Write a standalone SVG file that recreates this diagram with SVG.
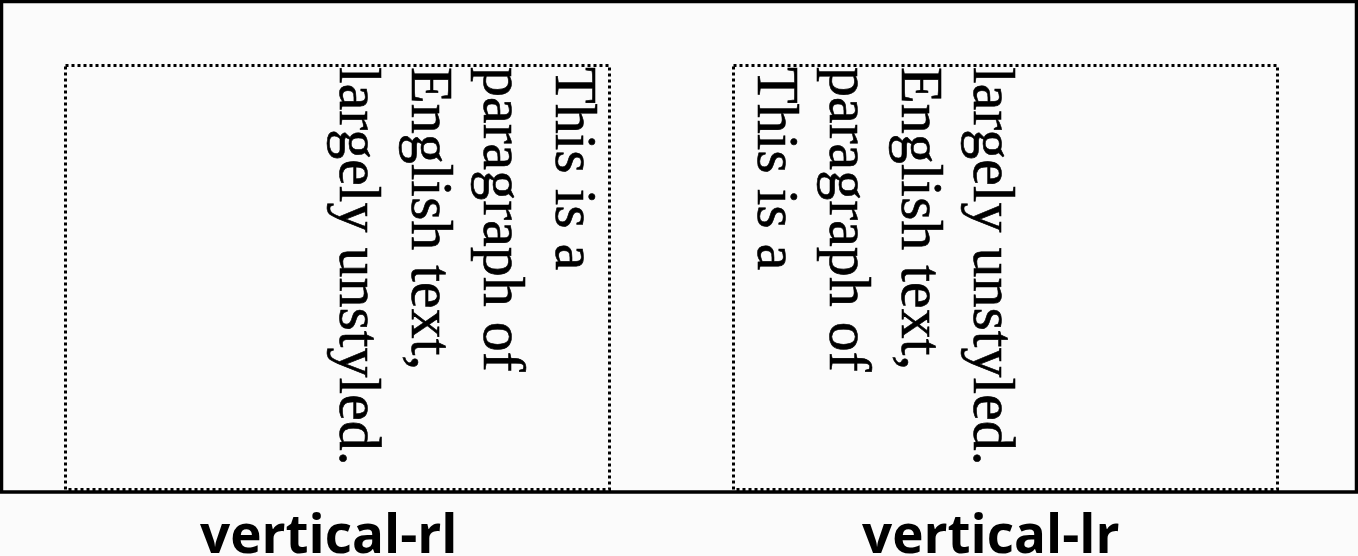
<svg xmlns="http://www.w3.org/2000/svg" width="1358" height="556" viewBox="0 0 1358 556">
  <style>
    .bg { fill: #fbfbfb; }
    .frame { fill: none; stroke: #000; stroke-width: 3.5; }
    .dotted { fill: none; stroke: #000; stroke-width: 3; stroke-dasharray: 3 3; }
    .para { font-family: "Liberation Serif", "Times New Roman", serif; font-size: 60px; fill: #000; stroke: #000; stroke-width: 0.6; }
    .label { font-family: "Open Sans", "Noto Sans", sans-serif; font-weight: 700; font-size: 53px; fill: #000; }
  </style>
  <rect class="bg" x="0" y="0" width="1358" height="556"/>
  <rect id="outer-frame" class="frame" x="1.5" y="1.5" width="1355" height="490.5"/>

  <g id="panel-vertical-rl">
    <rect class="dotted" x="65.5" y="65.5" width="544" height="424"/>
    <text class="para" transform="translate(556,67) rotate(90)">This is a</text>
    <text class="para" transform="translate(484,67) rotate(90)">paragraph of</text>
    <text class="para" transform="translate(412,67) rotate(90)">English text,</text>
    <text class="para" transform="translate(340,67) rotate(90)">largely unstyled.</text>
  </g>

  <g id="panel-vertical-lr">
    <rect class="dotted" x="733.5" y="65.5" width="544" height="424"/>
    <text class="para" transform="translate(758,67) rotate(90)">This is a</text>
    <text class="para" transform="translate(830,67) rotate(90)">paragraph of</text>
    <text class="para" transform="translate(902,67) rotate(90)">English text,</text>
    <text class="para" transform="translate(974,67) rotate(90)">largely unstyled.</text>
  </g>

  <g id="label-vertical-rl">
    <text class="label" x="200" y="553">vertical-rl</text>
  </g>
  <g id="label-vertical-lr">
    <text class="label" x="862" y="553">vertical-lr</text>
  </g>
</svg>
